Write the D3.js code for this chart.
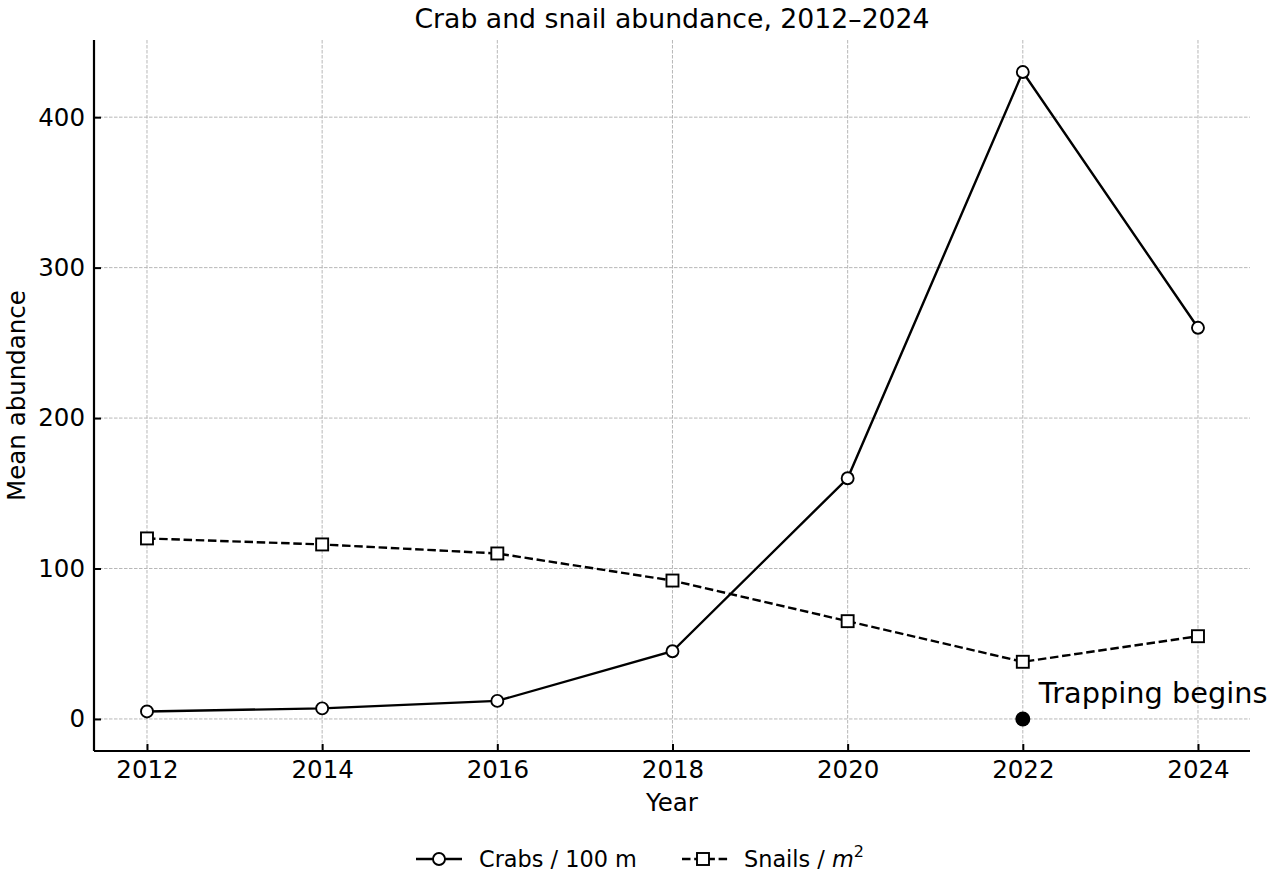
<!DOCTYPE html>
<html>
<head>
<meta charset="utf-8">
<script src="https://cdn.jsdelivr.net/npm/d3@7"></script>
<style>
  body { margin: 0; background: #fff; }
  svg, svg text { font-family: "DejaVu Sans", sans-serif; }
  .grid line { stroke: #b0b0b0; stroke-width: 0.9; stroke-dasharray: 3.5,1.5; }
  .axis path, .axis line { stroke: #000; }
  .axis path { stroke-width: 2.2; }
  .axis line { stroke-width: 2; }
  .axis text { fill: #000; font-size: 24.5px; }
</style>
</head>
<body>
<svg id="chart" width="1280" height="880"></svg>
<script>
// values
var years = [2012, 2014, 2016, 2018, 2020, 2022, 2024]
  , crabs = [5, 7, 12, 45, 160, 430, 260]
  , snails = [120, 116, 110, 92, 65, 38, 55]
  , yTicks = [0, 100, 200, 300, 400]
  , trapYear = 2022
  , trapValue = 0
  , trapLabel = 'Trapping begins'
  ;

//============================================================
// Layout
//------------------------------------------------------------

var svg = d3.select('#chart')
  , margin = {top: 40, right: 30, bottom: 129, left: 94}
  , width = 1280 - margin.left - margin.right
  , height = 880 - margin.top - margin.bottom
  , lineW = 2.4
  , edgeW = 1.9
  , dash = '8.5,3.7'
  ;

var x = d3.scaleLinear().domain([2011.395, 2024.594]).range([0, width]);
var y = d3.scaleLinear().domain([-21.3, 451.3]).range([height, 0]);

var g = svg.append('g').attr('transform', 'translate(' + margin.left + ',' + margin.top + ')');

//------------------------------------------------------------
// Grid

var grid = g.append('g').attr('class', 'grid');

grid.selectAll('line.v').data(years).enter().append('line')
  .attr('class', 'v')
  .attr('x1', function (d) { return x(d); })
  .attr('x2', function (d) { return x(d); })
  .attr('y1', 0).attr('y2', height);

grid.selectAll('line.h').data(yTicks).enter().append('line')
  .attr('class', 'h')
  .attr('x1', 0).attr('x2', width)
  .attr('y1', function (d) { return y(d); })
  .attr('y2', function (d) { return y(d); });

//------------------------------------------------------------
// Axes (ticks point inward)

var xAxis = d3.axisBottom(x).tickValues(years).tickFormat(d3.format('d'))
  .tickSize(-7).tickSizeOuter(0).tickPadding(9.5);
var yAxis = d3.axisLeft(y).tickValues(yTicks)
  .tickSize(-7).tickSizeOuter(0).tickPadding(9);

g.append('g').attr('class', 'axis x')
  .attr('transform', 'translate(0,' + height + ')')
  .call(xAxis)
  .call(function (s) { s.select('.domain').attr('d', 'M0,0H' + width); });

g.append('g').attr('class', 'axis y')
  .call(yAxis)
  .call(function (s) { s.select('.domain').attr('d', 'M0,' + height + 'V0'); });

g.selectAll('.axis').attr('font-family', null).attr('font-size', null);

//------------------------------------------------------------
// Series

var line = d3.line()
  .x(function (d) { return x(d[0]); })
  .y(function (d) { return y(d[1]); });

var crabPts = d3.zip(years, crabs)
  , snailPts = d3.zip(years, snails);

g.append('path').datum(snailPts)
  .attr('d', line)
  .attr('fill', 'none').attr('stroke', '#000').attr('stroke-width', lineW)
  .attr('stroke-dasharray', dash);

g.append('path').datum(crabPts)
  .attr('d', line)
  .attr('fill', 'none').attr('stroke', '#000').attr('stroke-width', lineW);

g.selectAll('rect.snail').data(snailPts).enter().append('rect')
  .attr('class', 'snail')
  .attr('x', function (d) { return x(d[0]) - 6; })
  .attr('y', function (d) { return y(d[1]) - 6; })
  .attr('width', 12).attr('height', 12)
  .attr('fill', '#fff').attr('stroke', '#000').attr('stroke-width', edgeW);

g.selectAll('circle.crab').data(crabPts).enter().append('circle')
  .attr('class', 'crab')
  .attr('cx', function (d) { return x(d[0]); })
  .attr('cy', function (d) { return y(d[1]); })
  .attr('r', 6)
  .attr('fill', '#fff').attr('stroke', '#000').attr('stroke-width', edgeW);

//------------------------------------------------------------
// Annotation

g.append('circle')
  .attr('cx', x(trapYear)).attr('cy', y(trapValue)).attr('r', 7.5)
  .attr('fill', '#000');

g.append('text')
  .attr('x', x(trapYear) + 16).attr('y', y(trapValue) - 16)
  .attr('font-size', 28.8).attr('fill', '#000')
  .text(trapLabel);

//------------------------------------------------------------
// Title and axis labels

svg.append('text')
  .attr('x', margin.left + width / 2).attr('y', 28)
  .attr('text-anchor', 'middle').attr('font-size', 26.7)
  .text('Crab and snail abundance, 2012\u20132024');

svg.append('text')
  .attr('x', margin.left + width / 2).attr('y', 811)
  .attr('text-anchor', 'middle').attr('font-size', 24.5)
  .text('Year');

svg.append('text')
  .attr('transform', 'translate(24.5,' + (margin.top + height / 2) + ') rotate(-90)')
  .attr('text-anchor', 'middle').attr('font-size', 24.5)
  .text('Mean abundance');

//------------------------------------------------------------
// Legend

var legend = svg.append('g').attr('transform', 'translate(0,859)');

var crabKey = legend.append('g');
crabKey.append('line').attr('x1', 416).attr('x2', 462)
  .attr('stroke', '#000').attr('stroke-width', lineW);
crabKey.append('circle').attr('cx', 439).attr('r', 6)
  .attr('fill', '#fff').attr('stroke', '#000').attr('stroke-width', edgeW);
crabKey.append('text').attr('x', 479).attr('dy', '0.35em').attr('font-size', 22.4)
  .text('Crabs / 100 m');

var snailKey = legend.append('g');
snailKey.append('line').attr('x1', 682).attr('x2', 728)
  .attr('stroke', '#000').attr('stroke-width', lineW).attr('stroke-dasharray', dash);
snailKey.append('rect').attr('x', 697).attr('y', -6).attr('width', 12).attr('height', 12)
  .attr('fill', '#fff').attr('stroke', '#000').attr('stroke-width', edgeW);
var snailText = snailKey.append('text').attr('x', 744).attr('dy', '0.35em').attr('font-size', 22.4);
snailText.append('tspan').text('Snails / ');
snailText.append('tspan').attr('font-style', 'italic').text('m');
snailText.append('tspan').attr('font-size', 16).attr('dy', '-0.6em').text('2');
</script>
</body>
</html>
